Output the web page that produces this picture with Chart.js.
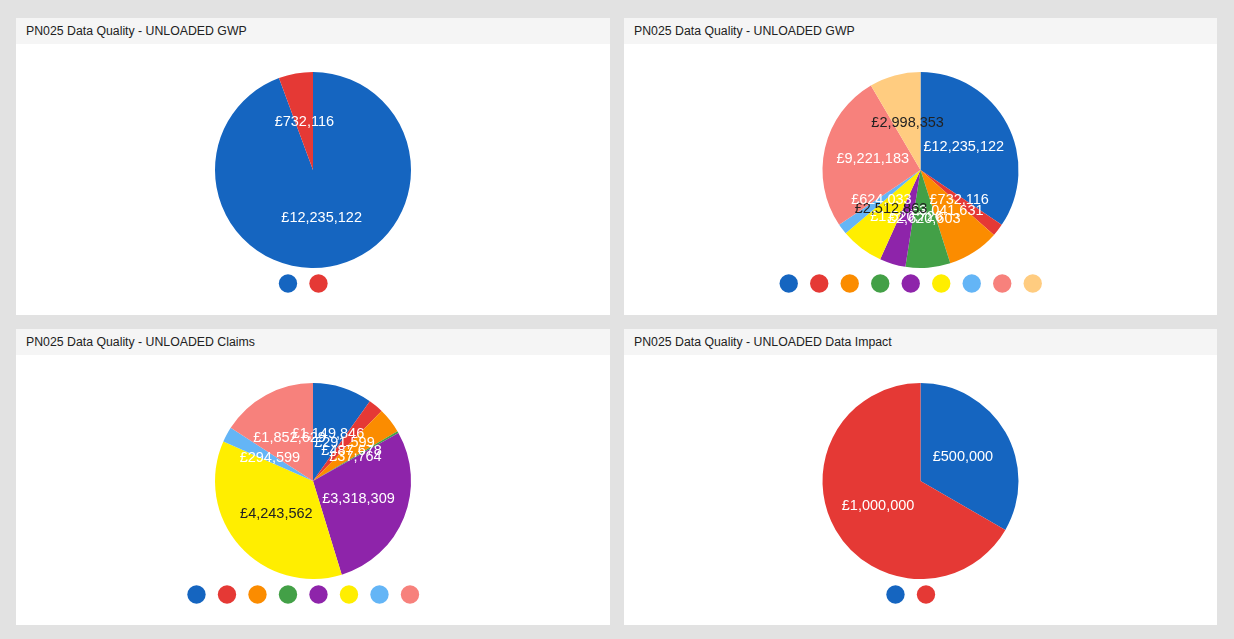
<!DOCTYPE html>
<html>
<head>
<meta charset="utf-8">
<script src="https://cdn.jsdelivr.net/npm/chart.js@4.4.0/dist/chart.umd.min.js"></script>
<style>
  body { margin: 0; background: #e2e2e2; font-family: Arial, "Liberation Sans", sans-serif; }
  .panel { position: absolute; background: #fff; width: 594px; height: 297px; }
  .head { height: 26px; background: #f5f5f5; font-size: 12.3px; color: #222; line-height: 27px; padding-left: 10px; }
  .body { position: relative; height: 271px; }
</style>
</head>
<body>
<div class="panel" style="left:16px; top:18px;">
  <div class="head">PN025 Data Quality - UNLOADED GWP</div>
  <div class="body"><canvas id="gwpChart"></canvas></div>
</div>
<div class="panel" style="left:624px; top:18px; width:593px;">
  <div class="head">PN025 Data Quality - UNLOADED GWP</div>
  <div class="body"><canvas id="gwpSplitChart"></canvas></div>
</div>
<div class="panel" style="left:16px; top:329px; height:296px;">
  <div class="head">PN025 Data Quality - UNLOADED Claims</div>
  <div class="body"><canvas id="claimsChart"></canvas></div>
</div>
<div class="panel" style="left:624px; top:329px; width:593px; height:296px;">
  <div class="head">PN025 Data Quality - UNLOADED Data Impact</div>
  <div class="body"><canvas id="impactChart"></canvas></div>
</div>
<script>
// segment names are not shown in the legend, only the colour dots
const gwpCategories = ['', ''];
const gwpValues = [12235122, 732116];

const gwpSplitCategories = ['', '', '', '', '', '', '', '', ''];
const gwpSplitValues = [12235122, 732116, 3041631, 2620603, 1520726, 2512863, 624033, 9221183, 2998353];

const claimsCategories = ['', '', '', '', '', '', '', ''];
const claimsValues = [1149846, 291599, 487678, 37764, 3318309, 4243562, 294599, 1852629];

const impactCategories = ['', ''];
const impactValues = [500000, 1000000];

const palette = ['#1565c0', '#e53935', '#fb8c00', '#43a047', '#8e24aa', '#ffee00', '#64b5f6', '#f7817c', '#ffcc80'];
const textColours = ['#fff', '#fff', '#fff', '#fff', '#fff', '#222', '#fff', '#fff', '#222'];

const money = v => '£' + v.toLocaleString('en-GB');

// draws the value in the middle of each slice
const sliceLabels = {
    id: 'sliceLabels',
    afterDatasetsDraw(chart) {
        const ctx = chart.ctx;
        const meta = chart.getDatasetMeta(0);
        const values = chart.data.datasets[0].data;
        ctx.save();
        ctx.font = '14.5px Arial, "Liberation Sans", sans-serif';
        ctx.textAlign = 'center';
        ctx.textBaseline = 'middle';
        meta.data.forEach((arc, i) => {
            const p = arc.getCenterPoint();
            ctx.fillStyle = textColours[i];
            ctx.fillText(money(values[i]), p.x, p.y);
        });
        ctx.restore();
    }
};

function makePie(id, categories, values) {
    return new Chart(document.getElementById(id), {
        type: 'pie',
        data: {
            labels: categories,
            datasets: [{
                data: values,
                backgroundColor: palette.slice(0, values.length),
                borderWidth: 0
            }]
        },
        options: {
            responsive: true,
            maintainAspectRatio: false,
            animation: false,
            layout: { padding: { top: 28, bottom: 15 } },
            plugins: {
                legend: {
                    position: 'bottom',
                    labels: {
                        usePointStyle: true,
                        pointStyle: 'circle',
                        font: { size: 13 },
                        boxHeight: 13,
                        boxWidth: 2,
                        padding: 9,
                        // blank spacer text keeps the dots apart like the original
                        generateLabels(chart) {
                            const items = Chart.overrides.pie.plugins.legend.labels.generateLabels(chart);
                            items.forEach(it => { it.text = '\u2003'; });
                            return items;
                        }
                    }
                },
                tooltip: { enabled: false }
            }
        },
        plugins: [sliceLabels]
    });
}

const gwpChart = makePie('gwpChart', gwpCategories, gwpValues);
const gwpSplitChart = makePie('gwpSplitChart', gwpSplitCategories, gwpSplitValues);
const claimsChart = makePie('claimsChart', claimsCategories, claimsValues);
const impactChart = makePie('impactChart', impactCategories, impactValues);
</script>
</body>
</html>
